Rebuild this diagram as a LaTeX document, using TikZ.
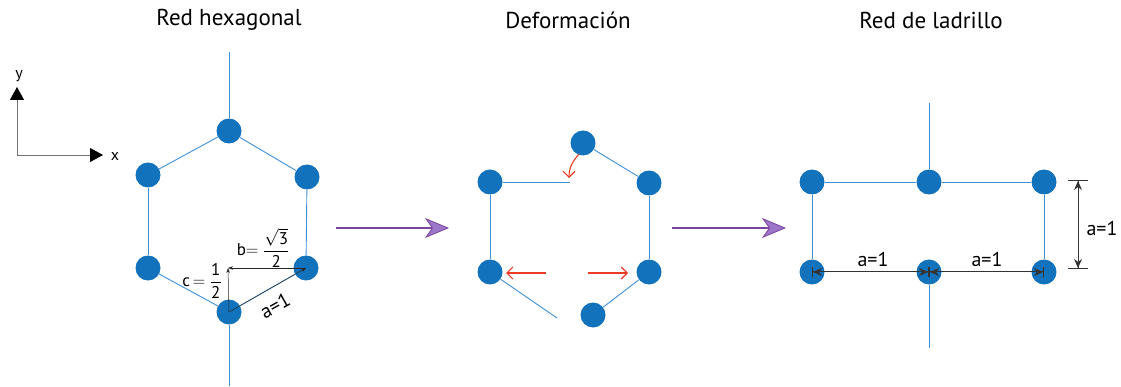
\documentclass[tikz,border=0pt]{standalone}
\usepackage{fontspec}
\setmainfont{PT Sans}
\usetikzlibrary{arrows.meta}
\definecolor{dotblue}{HTML}{1272BC}
\definecolor{lineblue}{HTML}{3D8FD8}
\definecolor{purp}{HTML}{7B449F}
\definecolor{purpfill}{HTML}{9C76C9}
\definecolor{redarr}{HTML}{EB3B24}
\begin{document}
\begin{tikzpicture}[x=1pt,y=-1pt,
  dot/.style={circle,fill=dotblue,inner sep=0pt,minimum size=25pt},
  bond/.style={lineblue,line width=0.9pt},
  title/.style={font=\fontsize{23}{27}\selectfont},
  lab/.style={font=\fontsize{20}{24}\selectfont},
  fraclab/.style={font=\fontsize{17}{20}\selectfont,inner sep=0pt},
  dim/.style={black!85,line width=0.5pt,-{Stealth[length=5pt,width=3.5pt]}},
  dimb/.style={black!80,line width=1pt,{Bar[width=10pt]Stealth[length=9pt,width=8pt]}-{Stealth[length=9pt,width=8pt]Bar[width=10pt]}},
  dimv/.style={black!80,line width=1pt,{Bar[width=20pt]Stealth[length=9pt,width=8pt]}-{Stealth[length=9pt,width=8pt]Bar[width=20pt]}},
  bigarrow/.style={purp,line width=1.8pt,-{Stealth[length=24pt,width=20pt,inset=7pt,fill=purpfill,line width=0.8pt]}},
  redarrow/.style={redarr,line width=1.1pt,-{Straight Barb[length=6pt,width=12pt]}},
  axis/.style={black!55,line width=0.8pt,-{Triangle[length=13pt,width=14pt,fill=black,color=black]}}
]
\useasboundingbox (0,0) rectangle (1121,387);
% titles
\node[title] (t1) at (229,20) {Red hexagonal};
\node[title] (t2) at (568,20) {Deformación};
\node[title] (t3) at (931,20) {Red de ladrillo};
% axes
\coordinate (o) at (17,155);
\coordinate (yend) at (17,87);
\coordinate (xend) at (103,155);
\draw[axis] (o) -- (yend);
\draw[axis] (o) -- (xend);
\node[font=\fontsize{16}{18}\selectfont] (ylab) at (19,76) {y};
\node[font=\fontsize{16}{18}\selectfont] (xlab) at (115,157) {x};
% hexagon
\coordinate (htopend) at (229,52);
\coordinate (hbotend) at (229,386);
\node[dot] (ht) at (229,131) {};
\node[dot] (hul) at (148,175) {};
\node[dot] (hur) at (307,177) {};
\node[dot] (hll) at (148,268) {};
\node[dot] (hlr) at (306,268) {};
\node[dot] (hb) at (229,312) {};
\draw[bond] (htopend) -- (ht);
\draw[bond] (ht) -- (hul);
\draw[bond] (ht) -- (hur);
\draw[bond] (hul) -- (hll);
\draw[bond] (hur) -- (hlr);
\draw[bond] (hll) -- (hb);
\draw[bond] (hlr) -- (hb);
\draw[bond] (hb) -- (hbotend);
\coordinate (corner) at (228,268);
\draw[dim] (hb.center) -- (corner);
\draw[dim] (hlr.center) -- (corner);
\draw[dim] (hb.center) -- (hlr.center);
\node[fraclab] (blab) at (263,248) {b$=\displaystyle\frac{\sqrt{\mbox{3}}}{\mbox{2}}$};
\node[fraclab] (clab) at (202,281) {c\,$=\displaystyle\frac{\mbox{1}}{\mbox{2}}$};
\node[lab,rotate=29,inner sep=0pt] (alab) at (275,306) {a=1};
% big arrows
\coordinate (a1s) at (336,228);
\coordinate (a1e) at (449,228);
\coordinate (a2s) at (672,228);
\coordinate (a2e) at (786,228);
\draw[bigarrow] (a1s) -- (a1e);
\draw[bigarrow] (a2s) -- (a2e);
% deformation
\node[dot] (dt) at (583,143) {};
\node[dot] (dul) at (490,182) {};
\node[dot] (dur) at (649,183) {};
\node[dot] (dll) at (490,272) {};
\node[dot] (dlr) at (649,272) {};
\node[dot] (db) at (593,315) {};
\coordinate (dulend) at (570,182);
\coordinate (dllend) at (557,318);
\draw[bond] (dul) -- (dulend);
\draw[bond] (dul) -- (dll);
\draw[bond] (dll) -- (dllend);
\draw[bond] (dt) -- (dur);
\draw[bond] (dur) -- (dlr);
\draw[bond] (dlr) -- (db);
\coordinate (r1s) at (579,154);
\coordinate (r1e) at (569,178);
\draw[redarrow] (r1s) .. controls (573,161) and (569,167) .. (r1e);
\coordinate (r2s) at (546,273);
\coordinate (r2e) at (506,273);
\draw[redarrow] (r2s) -- (r2e);
\coordinate (r3s) at (588,273);
\coordinate (r3e) at (628,273);
\draw[redarrow] (r3s) -- (r3e);
% brick
\node[dot] (bul) at (812,182) {};
\node[dot] (bum) at (929,182) {};
\node[dot] (bur) at (1044,182) {};
\node[dot] (bll) at (812,272) {};
\node[dot] (blm) at (929,272) {};
\node[dot] (blr) at (1044,272) {};
\coordinate (btopend) at (929,103);
\coordinate (bbotend) at (929,348);
\draw[bond] (btopend) -- (bum);
\draw[bond] (bul) -- (bum);
\draw[bond] (bum) -- (bur);
\draw[bond] (bul) -- (bll);
\draw[bond] (bur) -- (blr);
\draw[bond] (blm) -- (bbotend);
\draw[dimb] (bll.center) -- (blm.center);
\draw[dimb] (blm.center) -- (blr.center);
\coordinate (vt) at (1078,180);
\coordinate (vb) at (1078,269);
\draw[dimv] (vt) -- (vb);
\node[lab] (l1) at (873,259) {a=1};
\node[lab] (l2) at (987,259) {a=1};
\node[lab] (l3) at (1102,228) {a=1};
\end{tikzpicture}
\end{document}
